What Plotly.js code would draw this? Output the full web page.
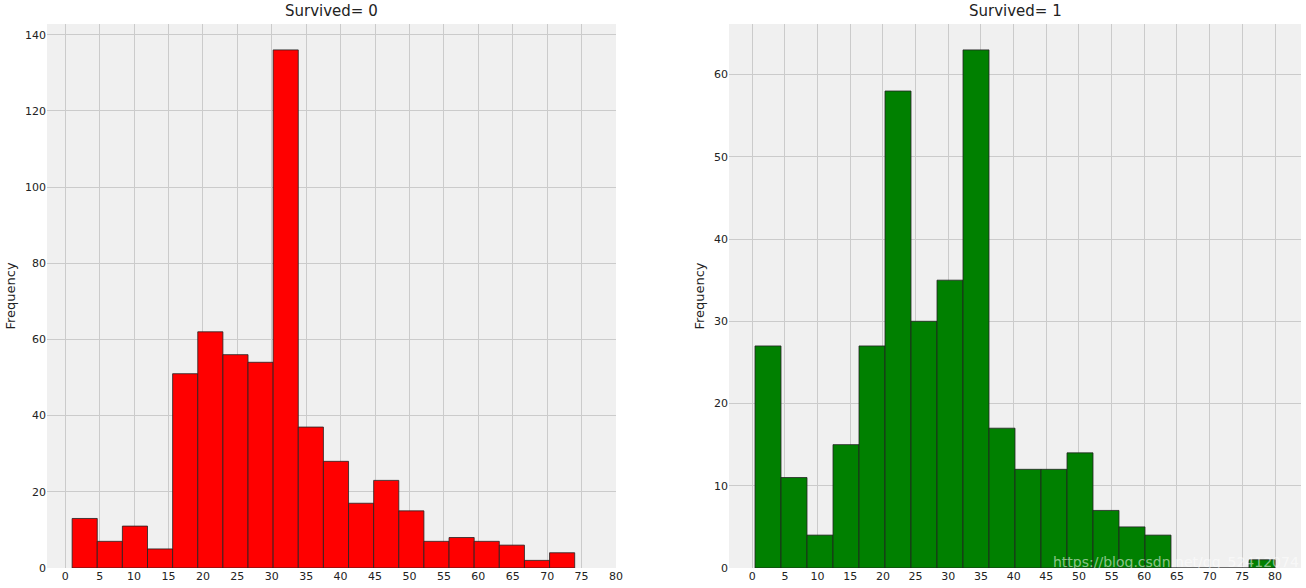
<!DOCTYPE html>
<html>
<head>
<meta charset="utf-8">
<script src="https://cdn.plot.ly/plotly-3.0.1.min.js"></script>
<style>html,body{margin:0;padding:0;background:#fff;}#chart{width:1306px;height:588px;}</style>
</head>
<body>
<div id="chart"></div>
<script>
// Survived = 0 : age histogram, 20 bins from min to max age
const died_min_age = 1;
const died_max_age = 74;
const died_counts = [13, 7, 11, 5, 51, 62, 56, 54, 136, 37, 28, 17, 23, 15, 7, 8, 7, 6, 2, 4];

// Survived = 1 : age histogram, 20 bins from min to max age
const surv_min_age = 0.42;
const surv_max_age = 80;
const surv_counts = [27, 11, 4, 15, 27, 58, 30, 35, 63, 17, 12, 12, 14, 7, 5, 4, 0, 0, 0, 1];

const x_ticks = [0, 5, 10, 15, 20, 25, 30, 35, 40, 45, 50, 55, 60, 65, 70, 75, 80];
const titles = ["Survived= 0", "Survived= 1"];
const y_label = "Frequency";

function centers(mn, mx, n) {
  const w = (mx - mn) / n;
  const c = [];
  for (let i = 0; i < n; i++) c.push(mn + w * (i + 0.5));
  return {c: c, w: w};
}
const d = centers(died_min_age, died_max_age, died_counts.length);
const s = centers(surv_min_age, surv_max_age, surv_counts.length);

const traces = [
  {type: 'bar', x: d.c, y: died_counts, width: d.w, marker: {color: '#ff0000', line: {color: '#222', width: 0.8}}, xaxis: 'x', yaxis: 'y', hoverinfo: 'x+y'},
  {type: 'bar', x: s.c, y: surv_counts, width: s.w, marker: {color: '#008000', line: {color: '#222', width: 0.8}}, xaxis: 'x2', yaxis: 'y2', hoverinfo: 'x+y'}
];

const font = {family: 'DejaVu Sans, sans-serif', size: 11, color: '#222'};
function xax(dom, mn, mx) {
  const m = (mx - mn) * 0.05;
  return {domain: dom, range: [mn - m, Math.max(mx + m, 80)], tickvals: x_ticks, ticktext: x_ticks.map(String),
    showgrid: true, gridcolor: '#cbcbcb', gridwidth: 1, zeroline: false, showline: false, ticks: '', ticklen: 0,
    tickfont: font, fixedrange: true};
}
function yax(dom, max, dt, anchor) {
  return {domain: dom, range: [0, max * 1.05], dtick: dt, anchor: anchor,
    showgrid: true, gridcolor: '#cbcbcb', gridwidth: 1, zeroline: false, showline: false, ticks: '',
    tickfont: font, title: {text: y_label, font: {family: 'DejaVu Sans, sans-serif', size: 13, color: '#222'}, standoff: 6}};
}

const W = 1306, H = 588;
const ml = 47, mr = 5, mt = 24, mb = 20;
const pw = W - ml - mr;
const l1 = 0, r1 = (616 - ml) / pw, l2 = (729 - ml) / pw, r2 = 1;

const layout = {
  width: W, height: H,
  margin: {l: ml, r: mr, t: mt, b: mb},
  paper_bgcolor: '#ffffff', plot_bgcolor: '#f0f0f0',
  showlegend: false, bargap: 0,
  xaxis: Object.assign(xax([l1, r1], died_min_age, died_max_age), {anchor: 'y'}),
  yaxis: yax([0, 1], Math.max(...died_counts), 20, 'x'),
  xaxis2: Object.assign(xax([l2, r2], surv_min_age, surv_max_age), {anchor: 'y2'}),
  yaxis2: yax([0, 1], Math.max(...surv_counts), 10, 'x2'),
  annotations: [
    {text: titles[0], xref: 'paper', yref: 'paper', x: (l1 + r1) / 2, y: 1, yshift: 2, xanchor: 'center', yanchor: 'bottom', showarrow: false, font: {family: 'DejaVu Sans, sans-serif', size: 15, color: '#222'}},
    {text: titles[1], xref: 'paper', yref: 'paper', x: (l2 + r2) / 2, y: 1, yshift: 2, xanchor: 'center', yanchor: 'bottom', showarrow: false, font: {family: 'DejaVu Sans, sans-serif', size: 15, color: '#222'}},
    {text: 'https://blog.csdn.net/qq_52412074', xref: 'paper', yref: 'paper', x: 1, y: 0, xanchor: 'right', yanchor: 'bottom', yshift: -4, showarrow: false, font: {family: 'DejaVu Sans, sans-serif', size: 14, color: 'rgba(255,255,255,0.55)'}}
  ]
};

Plotly.newPlot('chart', traces, layout, {displayModeBar: false, staticPlot: true});
</script>
</body>
</html>
